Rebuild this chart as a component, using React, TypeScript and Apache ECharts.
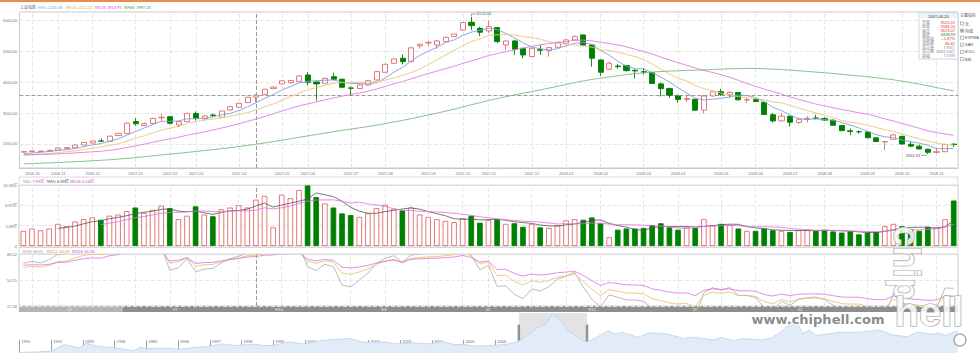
import React, { useEffect, useRef } from 'react';
import * as echarts from 'echarts';

// ---------- DATA ----------
const weeks: string[] = [
  '2006-09-29', '2006-10-13', '2006-10-20', '2006-10-27', '2006-11-03', '2006-11-10', '2006-11-17', '2006-11-24', '2006-12-01', '2006-12-08', '2006-12-15', '2006-12-22', '2006-12-29',
  '2007-01-05', '2007-01-12', '2007-01-19', '2007-01-26', '2007-02-02', '2007-02-09', '2007-02-16', '2007-03-02', '2007-03-09', '2007-03-16', '2007-03-23', '2007-03-30',
  '2007-04-06', '2007-04-13', '2007-04-20', '2007-04-27', '2007-04-30', '2007-05-11', '2007-05-18', '2007-05-25', '2007-06-01', '2007-06-08', '2007-06-15', '2007-06-22', '2007-06-29',
  '2007-07-06', '2007-07-13', '2007-07-20', '2007-07-27', '2007-08-03', '2007-08-10', '2007-08-17', '2007-08-24', '2007-08-31', '2007-09-07', '2007-09-14', '2007-09-21', '2007-09-28',
  '2007-10-12', '2007-10-19', '2007-10-26', '2007-11-02', '2007-11-09', '2007-11-16', '2007-11-23', '2007-11-30', '2007-12-07', '2007-12-14', '2007-12-21', '2007-12-28',
  '2008-01-04', '2008-01-11', '2008-01-18', '2008-01-25', '2008-02-01', '2008-02-05', '2008-02-15', '2008-02-22', '2008-02-29', '2008-03-07', '2008-03-14', '2008-03-21', '2008-03-28',
  '2008-04-03', '2008-04-11', '2008-04-18', '2008-04-25', '2008-04-30', '2008-05-09', '2008-05-16', '2008-05-23', '2008-05-30', '2008-06-06', '2008-06-13', '2008-06-20', '2008-06-27',
  '2008-07-04', '2008-07-11', '2008-07-18', '2008-07-25', '2008-08-01', '2008-08-08', '2008-08-15', '2008-08-22', '2008-08-29', '2008-09-05', '2008-09-12', '2008-09-19', '2008-09-26',
  '2008-10-10', '2008-10-17', '2008-10-24', '2008-10-31', '2008-11-07', '2008-11-14', '2008-11-21',
];

// [open, close, low, high]
const ohlc: number[][] = [
  [1738, 1752, 1727, 1760], [1752, 1772, 1748, 1780], [1755, 1768, 1742, 1775], [1768, 1795, 1760, 1800], [1800, 1868, 1795, 1875],
  [1860, 1880, 1845, 1890], [1878, 1965, 1872, 1970], [1965, 2050, 1960, 2060], [2030, 2095, 2020, 2105], [2100, 2092, 2080, 2184],
  [2085, 2255, 2080, 2265], [2275, 2346, 2260, 2360], [2345, 2675, 2320, 2698],
  [2728, 2655, 2600, 2835], [2600, 2660, 2590, 2700], [2668, 2832, 2660, 2845], [2850, 2866, 2747, 2975], [2887, 2671, 2640, 2900],
  [2617, 2725, 2541, 2740], [2725, 2995, 2715, 3005], [2990, 2840, 2760, 3050], [2833, 2909, 2747, 2930], [2938, 2925, 2880, 2980],
  [2865, 3070, 2855, 3080], [3104, 3212, 3090, 3225], [3190, 3320, 3180, 3330], [3342, 3515, 3330, 3530], [3523.22, 3584.2, 3358.93, 3623.07],
  [3612, 3775, 3600, 3790], [3796, 3845, 3790, 3870], [3948, 4050, 3940, 4070], [3990, 4060, 3950, 4080], [4030, 4205, 4010, 4230],
  [4240, 4000, 3900, 4336], [4012, 3950, 3404, 4040], [3970, 4130, 3960, 4150], [4185, 4100, 4070, 4312], [4100, 3840, 3820, 4120],
  [3820, 3807, 3563, 3860], [3796, 3915, 3780, 3925], [3915, 4055, 3900, 4070], [4077, 4348, 4060, 4360], [4326, 4586, 4310, 4600],
  [4618, 4759, 4600, 4780], [4781, 4672, 4580, 4900], [4672, 5120, 4660, 5150], [5181, 5235, 5100, 5260], [5280, 5295, 5180, 5340],
  [5213, 5343, 5100, 5380], [5321, 5462, 5300, 5480], [5484, 5570, 5470, 5580], [5700, 5938, 5680, 5955], [5949, 5841, 5700, 6124.04],
  [5754, 5625, 5500, 5800], [5668, 5808, 5600, 6005], [5776, 5322, 5280, 5800], [5213, 5343, 5051, 5360], [5343, 5073, 4889, 5380],
  [5105, 4889, 4778, 5120], [4835, 5105, 4820, 5120], [5060, 5040, 4889, 5213], [5030, 5127, 4835, 5140], [5138, 5300, 5120, 5310],
  [5268, 5376, 5250, 5390], [5376, 5484, 5360, 5522], [5538, 5192, 5170, 5550], [5213, 4781, 4510, 5230], [4727, 4326, 4207, 4740],
  [4424, 4618, 4400, 4680], [4530, 4510, 4440, 4600], [4543, 4380, 4350, 4560], [4390, 4370, 4131, 4420], [4345, 4326, 4250, 4470],
  [4320, 3962, 3950, 4330], [3950, 3796, 3541, 4000], [3800, 3580, 3500, 3830], [3560, 3446, 3333, 3600], [3440, 3472, 3360, 3600],
  [3450, 3094, 3070, 3470], [3100, 3557, 2990, 3600], [3560, 3693, 3540, 3700], [3700, 3613, 3560, 3786], [3600, 3671, 3500, 3700],
  [3670, 3433, 3420, 3680], [3430, 3433, 3330, 3490], [3440, 3379, 3350, 3480], [3350, 2957, 2940, 3360], [2950, 2748, 2690, 3000],
  [2750, 2902, 2730, 3000], [2900, 2704, 2566, 2910], [2700, 2802, 2650, 2850], [2800, 2830, 2700, 2900], [2840, 2837, 2800, 2953],
  [2830, 2776, 2750, 2870], [2770, 2605, 2600, 2800], [2600, 2432, 2420, 2620], [2430, 2405, 2284, 2500], [2400, 2397, 2330, 2440],
  [2390, 2202, 2190, 2410], [2200, 2079, 2060, 2210], [2070, 2075, 1802, 2080], [2150, 2293, 2140, 2333], [2250, 2000, 1980, 2260],
  [1990, 1930, 1895, 2081], [1930, 1839, 1830, 1980], [1830, 1729, 1664.93, 1850], [1730, 1748, 1690, 1850], [1750, 1988, 1740, 2000],
  [1995, 1980, 1900, 2030],
];

// weekly closes before the visible window (Jul 2005 - Sep 2006), for the moving averages and RSI
const priorCloses: number[] = [
  1039, 1083, 1077, 1125, 1170, 1146, 1160, 1168, 1183, 1145, 1155, 1139, 1111, 1092, 1120, 1106, 1099, 1112, 1123, 1123, 1140, 1145, 1161,
  1209, 1230, 1247, 1258, 1262, 1270, 1294, 1299, 1268, 1288, 1295, 1298, 1327, 1350, 1378, 1440, 1567, 1627, 1640, 1660, 1553, 1612,
  1660, 1672, 1735, 1718, 1646, 1627, 1560, 1602, 1580, 1598, 1658, 1640, 1660, 1710,
];

// weekly volume, 亿
const volumes: number[] = [
  2.6, 3.0, 2.7, 3.0, 3.8, 3.4, 4.2, 4.6, 4.9, 4.5, 5.2, 5.4, 6.0,
  6.6, 5.7, 6.2, 6.9, 6.5, 4.6, 5.2, 6.8, 5.4, 5.1, 6.3, 6.6, 7.0, 6.6, 7.95,
  8.6, 3.2, 8.8, 8.2, 9.6, 10.46, 8.4, 7.3, 6.6, 5.6,
  5.3, 5.0, 5.6, 6.5, 7.1, 6.4, 6.1, 6.6, 5.4, 5.0, 4.6, 4.3, 4.1,
  4.8, 5.2, 4.0, 4.5, 4.6, 3.8, 3.9, 3.3, 3.8, 3.2, 3.1, 3.6,
  4.4, 4.6, 4.5, 4.9, 3.9, 1.5, 2.8, 3.0, 3.0, 3.1,
  3.6, 3.9, 3.2, 2.8, 3.2, 3.1, 4.6, 3.6, 3.8, 3.6, 3.0, 2.6,
  2.6, 3.0, 2.7, 2.6, 2.4, 2.7, 2.8, 2.6, 2.8, 2.5, 2.3, 2.5, 2.0,
  2.3, 2.4, 3.4, 3.8, 3.4, 2.9, 2.6, 3.3, 3.2, 4.6, 7.8,
];

// overview (slider) series: year, index level
const overviewYears: number[] = [
  1991.0, 1991.5, 1992.0, 1992.4, 1992.9, 1993.1, 1993.5, 1994.0, 1994.6, 1994.8, 1995.0, 1995.4, 1995.8, 1996.0, 1996.5, 1996.9,
  1997.4, 1997.8, 1998.4, 1998.7, 1999.0, 1999.5, 1999.9, 2000.5, 2000.9, 2001.4, 2001.8, 2002.0, 2002.5, 2002.9, 2003.3, 2003.9,
  2004.3, 2004.7, 2005.0, 2005.4, 2005.9, 2006.3, 2006.7, 2006.99, 2007.3, 2007.6, 2007.8, 2008.0, 2008.3, 2008.6, 2008.85, 2009.0,
  2009.55, 2009.8, 2010.0, 2010.5, 2010.85, 2011.3, 2011.6, 2011.95, 2012.2, 2012.9, 2013.1, 2013.5, 2013.8, 2014.4, 2014.7, 2014.99,
  2015.45, 2015.7, 2015.9, 2016.1, 2016.9, 2017.5, 2017.9, 2018.1, 2018.5, 2018.99, 2019.3, 2019.8, 2020.0, 2020.2, 2020.5, 2020.58,
];
const overviewValues: number[] = [
  100, 140, 290, 1300, 780, 1500, 1000, 800, 340, 900, 650, 750, 700, 550, 850, 950,
  1400, 1150, 1350, 1150, 1150, 1700, 1400, 1900, 2070, 2240, 1700, 1650, 1700, 1400, 1600, 1400,
  1750, 1300, 1300, 1050, 1150, 1300, 1700, 2675, 3800, 4500, 6100, 5300, 3500, 2400, 1700, 1900,
  3400, 2900, 3200, 2400, 3100, 3000, 2700, 2200, 2450, 2000, 2400, 1900, 2200, 2000, 2300, 3200,
  5100, 3000, 3500, 2700, 3200, 3200, 3400, 3550, 2800, 2500, 3200, 2900, 3050, 2700, 3300, 3350,
];
const overviewTickYears: number[] = [
  1991, 1992, 1993, 1994, 1995, 1996, 1997, 1998, 1999, 2000, 2001, 2002, 2003, 2004, 2005,
  2006, 2007, 2008, 2009, 2010, 2011, 2012, 2013, 2014, 2015, 2016, 2017, 2018, 2019, 2020,
];
const windowRange: number[] = [2006.74, 2008.89];

const hoverDate = '2007-04-20';
const maLegend = ['MA5: 3336.88', 'MA10: 3111.31', 'MA20: 2914.95', 'MA60: 1997.24'];
const volLegend = ['VOL: 7.95亿', 'MA5: 6.89亿', 'MA10: 6.16亿'];
const rsiLegend = ['RSI6: 66.01', 'RSI12: 63.06', 'RSI24: 61.58'];
const tipRows: [string, string, string][] = [
  ['开盘', '3523.22', '#e03030'], ['收盘', '3584.20', '#e03030'], ['最高', '3623.07', '#e03030'], ['最低', '3358.93', '#008000'],
  ['涨跌幅', '+1.87%', '#e03030'], ['涨跌额', '66.65', '#e03030'], ['成交量', '7.95亿', '#888'], ['成交额', '8461.53亿', '#888'], ['振幅', '7.53%', '#888'],
];
const indicatorItems = ['无', '均线', 'EXPMA', 'SAR', 'BOLL', 'BBI'];
const bandLabels: [string, number][] = [['02', 70], ['07', 175], ['MA3', 279], ['M6', 384], ['30', 488], ['M12', 592], ['IIP', 695], ['ZZ', 800]];

// RSI axis labels (bottom, top)
const rsiMin = 22.58;
const rsiMax = 86.52;

// ---------- DERIVED ----------
const closes = ohlc.map((d) => d[1]);
const allCloses = priorCloses.concat(closes);
const P = priorCloses.length;

function movingAvg(src: number[], n: number, offset: number, len: number) {
  const out: (number | null)[] = [];
  for (let i = 0; i < len; i++) {
    const p = offset + i;
    if (p - n + 1 < 0) { out.push(null); continue; }
    let s = 0;
    for (let k = p - n + 1; k <= p; k++) s += src[k];
    out.push(+(s / n).toFixed(2));
  }
  return out;
}

function rsiSeries(src: number[], n: number) {
  let up = 0, ab = 0;
  const out: number[] = [50];
  for (let i = 1; i < src.length; i++) {
    const d = src[i] - src[i - 1];
    const u = Math.max(d, 0), a = Math.abs(d);
    if (i === 1) { up = u; ab = a; } else { up = (u + (n - 1) * up) / n; ab = (a + (n - 1) * ab) / n; }
    out.push(ab === 0 ? 50 : (up / ab) * 100);
  }
  return out;
}

const firstOfMonth = (i: number) => i > 0 && weeks[i].slice(0, 7) !== weeks[i - 1].slice(0, 7);
const monthStarts = weeks.filter((_, i) => firstOfMonth(i));

export default function App() {
  const ref = useRef<HTMLDivElement>(null);
  useEffect(() => {
    if (!ref.current) return;
    const chart = echarts.init(ref.current, undefined, { renderer: 'svg' });
    const n = weeks.length;
    const ma5 = movingAvg(allCloses, 5, P, n);
    const ma10 = movingAvg(allCloses, 10, P, n);
    const ma20 = movingAvg(allCloses, 20, P, n);
    const ma60 = movingAvg(allCloses, 60, P, n);
    const vma5 = movingAvg(volumes, 5, 0, n);
    const vma10 = movingAvg(volumes, 10, 0, n);
    const r6 = rsiSeries(allCloses, 6).slice(P).map((v) => +(v - rsiMin).toFixed(2));
    const r12 = rsiSeries(allCloses, 12).slice(P).map((v) => +(v - rsiMin).toFixed(2));
    const r24 = rsiSeries(allCloses, 24).slice(P).map((v) => +(v - rsiMin).toFixed(2));

    const FONT = 'Liberation Sans, Arial, sans-serif';
    const CJK = 'Noto Sans CJK SC, sans-serif';
    const gridColor = '#e6e6e6';
    const L = 19, R = 22;
    const crossStyle = { color: '#9a9a9a', type: 'dashed', width: 1 };

    // month grid lines + crosshair, drawn by a background series in each panel
    const guideSeries = (gi: number, withH: boolean) => ({
      type: 'line', xAxisIndex: gi, yAxisIndex: gi, data: weeks.map(() => null), symbol: 'none', silent: true, z: 0,
      lineStyle: { width: 0 },
      markLine: {
        silent: true, symbol: 'none', label: { show: false }, z: 0,
        lineStyle: { color: gridColor, type: 'dashed', width: 1 },
        data: (monthStarts.map((d) => ({ xAxis: d })) as any[])
          .concat([{ xAxis: hoverDate, lineStyle: crossStyle }])
          .concat(withH ? [{ yAxis: 3584.2, lineStyle: crossStyle }] : []),
      },
    });

    const catAxis = (gi: number, showLabel: boolean) => ({
      type: 'category', gridIndex: gi, data: weeks, boundaryGap: true,
      axisLine: { show: showLabel, lineStyle: { color: '#c8c8c8' } },
      axisTick: { show: false },
      axisLabel: {
        show: showLabel, interval: (i: number) => firstOfMonth(i), formatter: (v: string) => v.slice(0, 7),
        fontSize: 4, color: '#777', margin: 3, fontFamily: FONT,
      },
      splitLine: { show: false },
    });

    const text = (x: number, y: number, t: string, color: string, extra: any = {}) => ({
      type: 'text', x, y, silent: true,
      style: { text: t, fill: color, fontSize: 4, fontFamily: CJK, verticalAlign: 'middle', align: 'left', ...extra },
    });

    const graphics: any[] = [];
    graphics.push({ type: 'rect', shape: { x: 0, y: 0, width: 980, height: 2 }, style: { fill: '#ec8a4c' }, silent: true });
    // top legend
    graphics.push(text(20, 6.5, '上证指数', '#666'));
    const maColors = ['#7f9ee0', '#dba830', '#d94fd9', '#3c963c'];
    [38, 66, 95, 124].forEach((x, i) => graphics.push(text(x, 6.5, maLegend[i], maColors[i])));
    // volume header
    graphics.push({ type: 'rect', shape: { x: L, y: 177, width: 980 - L - R, height: 8 }, style: { fill: '#fff', stroke: '#d0d0d0', lineWidth: 0.8 }, silent: true, z: 5 });
    const volColors = ['#d040d0', '#444', '#d040d0'];
    [23, 47, 70].forEach((x, i) => graphics.push({ ...text(x, 181, volLegend[i], volColors[i]), z: 6 }));
    // rsi header
    graphics.push({ type: 'rect', shape: { x: L, y: 247.5, width: 980 - L - R, height: 6.5 }, style: { fill: '#fff', stroke: '#d0d0d0', lineWidth: 0.8 }, silent: true, z: 5 });
    const rsiColors = ['#9a9a9a', '#e0a020', '#d040d0'];
    [23, 47, 72].forEach((x, i) => graphics.push({ ...text(x, 250.5, rsiLegend[i], rsiColors[i]), z: 6 }));
    // gray band
    graphics.push({ type: 'rect', shape: { x: L, y: 306, width: 123 - L, height: 6 }, style: { fill: '#b4b4b4' }, silent: true });
    graphics.push({ type: 'rect', shape: { x: 123, y: 306, width: 958 - 123, height: 6 }, style: { fill: '#8e8e8e' }, silent: true });
    bandLabels.forEach(([t, x]) => graphics.push({ ...text(x, 309, t, '#e8e8e8', { align: 'center' }), z: 6 }));
    // tooltip panel
    graphics.push({ type: 'rect', shape: { x: 919, y: 13, width: 39, height: 46 }, style: { fill: 'rgba(255,255,255,0.95)', stroke: '#b7cce3', lineWidth: 0.8 }, silent: true, z: 10 });
    graphics.push({ type: 'rect', shape: { x: 919.5, y: 13.5, width: 38, height: 5 }, style: { fill: '#eef3f9' }, silent: true, z: 10 });
    graphics.push({ ...text(938.5, 16, hoverDate, '#333', { align: 'center', fontFamily: FONT }), z: 11 });
    tipRows.forEach(([k, v, c], i) => {
      const y = 22.3 + i * 4.15;
      graphics.push({ ...text(922, y, k, '#888'), z: 11 });
      graphics.push({ ...text(955, y, v, c, { align: 'right', fontFamily: FONT }), z: 11 });
    });
    // right indicator panel
    graphics.push(text(960, 15, '主图指标', '#555'));
    indicatorItems.forEach((t, i) => {
      const y = 23.5 + i * 7.1;
      graphics.push({ type: 'rect', shape: { x: 960.5, y: y - 1.6, width: 3.2, height: 3.2 }, style: { fill: '#fff', stroke: '#777', lineWidth: 0.5 }, silent: true });
      if (i === 1) graphics.push({ type: 'rect', shape: { x: 961.3, y: y - 0.8, width: 1.6, height: 1.6 }, style: { fill: '#3a6fc0' }, silent: true });
      graphics.push(text(965, y, t, '#555', { fontFamily: i > 1 ? FONT : CJK }));
    });
    // watermark
    graphics.push({
      type: 'text', x: 818, y: 319, silent: true, z: 20,
      style: { text: 'www.chiphell.com', fill: '#8c8c8c', stroke: '#ffffff', lineWidth: 1.5, fontSize: 13, fontWeight: 'bold', fontFamily: 'DejaVu Sans, sans-serif', align: 'center', verticalAlign: 'middle' },
    });
    graphics.push({
      type: 'text', x: 906, y: 263, rotation: -Math.PI / 2, silent: true, z: 20,
      style: { text: 'chip', fill: 'rgba(255,255,255,0.85)', stroke: '#a0a0a0', lineWidth: 1.2, fontSize: 36, fontWeight: 'bold', fontFamily: 'Liberation Sans Narrow, Liberation Sans, sans-serif', align: 'center', verticalAlign: 'middle' },
    });
    graphics.push({
      type: 'text', x: 929, y: 312, silent: true, z: 20,
      style: { text: 'hell', fill: 'rgba(255,255,255,0.85)', stroke: '#a0a0a0', lineWidth: 1.2, fontSize: 40, fontWeight: 'bold', fontFamily: 'Liberation Sans Narrow, Liberation Sans, sans-serif', align: 'center', verticalAlign: 'middle' },
    });
    graphics.push({ type: 'circle', shape: { cx: 960, cy: 340, r: 6 }, style: { fill: 'rgba(255,255,255,0.85)', stroke: '#a0a0a0', lineWidth: 1.2 }, silent: true, z: 20 });

    const option: any = {
      animation: false,
      backgroundColor: '#fff',
      textStyle: { fontFamily: FONT },
      grid: [
        { left: L, right: R, top: 12, height: 156, show: true, borderColor: '#c8c8c8', borderWidth: 1, backgroundColor: '#fff' },
        { left: L, right: R, top: 185, height: 61, show: true, borderColor: '#c8c8c8', borderWidth: 1 },
        { left: L, right: R, top: 254, height: 52, show: true, borderColor: '#c8c8c8', borderWidth: 1 },
        { left: L, right: R, top: 313, height: 40, show: false },
      ],
      xAxis: [
        catAxis(0, true), catAxis(1, false), catAxis(2, false),
        {
          type: 'value', gridIndex: 3, min: 1990.984, max: 2020.583,
          axisLine: { show: false },
          axisTick: { show: true, inside: true, length: 13, customValues: overviewTickYears, lineStyle: { color: '#8a8a8a', width: 0.8 } },
          axisLabel: { show: true, inside: true, customValues: overviewTickYears, formatter: (v: number) => String(Math.round(v)), fontSize: 4, color: '#666', align: 'left', margin: 10, padding: [0, 0, 0, 2] },
          splitLine: { show: false },
        },
      ],
      yAxis: [
        {
          type: 'value', gridIndex: 0, min: 1221, max: 6282, scale: true,
          axisLine: { show: false }, axisTick: { show: false },
          axisLabel: { fontSize: 4, color: '#777', margin: 2, formatter: (v: number) => v.toFixed(2), showMinLabel: false, showMaxLabel: false },
          splitLine: { show: true, lineStyle: { color: gridColor, type: 'dashed' } },
        },
        {
          type: 'value', gridIndex: 1, min: 0, max: 10.46, interval: 10.46 / 3,
          axisLine: { show: false }, axisTick: { show: false },
          axisLabel: { fontSize: 4, color: '#777', margin: 2, formatter: (v: number) => (v < 0.001 ? '0' : v.toFixed(2) + '亿'), fontFamily: CJK },
          splitLine: { show: true, lineStyle: { color: gridColor, type: 'dashed' } },
        },
        {
          type: 'value', gridIndex: 2, min: 0, max: +(rsiMax - rsiMin).toFixed(2), interval: +((rsiMax - rsiMin) / 2).toFixed(3),
          axisLine: { show: false }, axisTick: { show: false },
          axisLabel: { fontSize: 4, color: '#777', margin: 2, formatter: (v: number) => (v + rsiMin).toFixed(2) },
          splitLine: { show: true, lineStyle: { color: gridColor, type: 'dashed' } },
        },
        { type: 'value', gridIndex: 3, min: 0, max: 6150, show: false, splitLine: { show: false } },
      ],
      series: [
        guideSeries(0, true), guideSeries(1, false), guideSeries(2, false),
        {
          type: 'candlestick', xAxisIndex: 0, yAxisIndex: 0, data: ohlc, barWidth: 5.6,
          itemStyle: { color: '#ffffff', color0: '#008000', borderColor: '#e06b6b', borderColor0: '#008000', borderWidth: 0.9 },
          z: 3,
        },
        { type: 'line', xAxisIndex: 0, yAxisIndex: 0, data: ma5, symbol: 'none', lineStyle: { width: 0.9, color: maColors[0] }, z: 4 },
        { type: 'line', xAxisIndex: 0, yAxisIndex: 0, data: ma10, symbol: 'none', lineStyle: { width: 0.9, color: '#eac77c' }, z: 4 },
        { type: 'line', xAxisIndex: 0, yAxisIndex: 0, data: ma20, symbol: 'none', lineStyle: { width: 0.9, color: '#e47ae4' }, z: 4 },
        { type: 'line', xAxisIndex: 0, yAxisIndex: 0, data: ma60, symbol: 'none', lineStyle: { width: 0.9, color: '#7dbb7d' }, z: 4 },
        {
          type: 'bar', xAxisIndex: 1, yAxisIndex: 1, barWidth: 5.6, z: 3,
          data: volumes.map((v, i) => {
            const up = ohlc[i][1] >= ohlc[i][0];
            return { value: v, itemStyle: { color: up ? '#ffffff' : '#008000', borderColor: up ? '#e06b6b' : '#008000', borderWidth: 0.9 } };
          }),
        },
        { type: 'line', xAxisIndex: 1, yAxisIndex: 1, data: vma5, symbol: 'none', lineStyle: { width: 0.8, color: '#555' }, z: 4 },
        { type: 'line', xAxisIndex: 1, yAxisIndex: 1, data: vma10, symbol: 'none', lineStyle: { width: 0.8, color: '#e070e0' }, z: 4 },
        { type: 'line', xAxisIndex: 2, yAxisIndex: 2, data: r6, symbol: 'none', lineStyle: { width: 0.8, color: '#aaaaaa' }, z: 3 },
        { type: 'line', xAxisIndex: 2, yAxisIndex: 2, data: r12, symbol: 'none', lineStyle: { width: 0.8, color: '#ebbf5a' }, z: 3 },
        { type: 'line', xAxisIndex: 2, yAxisIndex: 2, data: r24, symbol: 'none', lineStyle: { width: 0.8, color: '#e070e0' }, z: 3 },
        {
          type: 'line', xAxisIndex: 3, yAxisIndex: 3, data: overviewYears.map((y, i) => [y, overviewValues[i]]), symbol: 'none',
          lineStyle: { width: 0.8, color: '#b9d0ea' }, areaStyle: { color: '#e1ecf8', opacity: 1 },
          markArea: { silent: true, itemStyle: { color: 'rgba(120,128,140,0.22)' }, data: [[{ xAxis: windowRange[0] }, { xAxis: windowRange[1] }]] },
        },
        {
          type: 'scatter', xAxisIndex: 3, yAxisIndex: 3, symbol: 'rect', symbolSize: [2.5, 19],
          data: windowRange.map((x) => [x, 2900]), itemStyle: { color: '#7a7a7a' }, silent: true,
        },
      ],
      graphic: graphics,
    };
    chart.setOption(option);

    // peak / trough annotations positioned through the axes
    const hiIdx = 52, loIdx = 105;
    const ph = chart.convertToPixel({ gridIndex: 0 } as any, [hiIdx, ohlc[hiIdx][3]]) as number[];
    const pl = chart.convertToPixel({ gridIndex: 0 } as any, [loIdx, ohlc[loIdx][2]]) as number[];
    const ann: any[] = [
      { type: 'polyline', silent: true, z: 8, shape: { points: [[ph[0], ph[1] - 0.5], [ph[0], ph[1] - 3], [ph[0] + 4, ph[1] - 3]] }, style: { stroke: '#666', lineWidth: 0.6, fill: 'none' } },
      { ...text(ph[0] + 5, ph[1] - 3, ohlc[hiIdx][3].toFixed(2), '#555', { fontFamily: FONT }), z: 8 },
      { type: 'line', silent: true, z: 8, shape: { x1: pl[0] - 7, y1: pl[1] + 1, x2: pl[0] - 1, y2: pl[1] + 1 }, style: { stroke: '#666', lineWidth: 0.6 } },
      { ...text(pl[0] - 8, pl[1] + 1, ohlc[loIdx][2].toFixed(2), '#555', { fontFamily: FONT, align: 'right' }), z: 8 },
    ];
    chart.setOption({ graphic: graphics.concat(ann) });

    return () => chart.dispose();
  }, []);
  return <div ref={ref} style={{ position: 'fixed', left: 0, top: 0, width: 980, height: 353 }} />;
}
